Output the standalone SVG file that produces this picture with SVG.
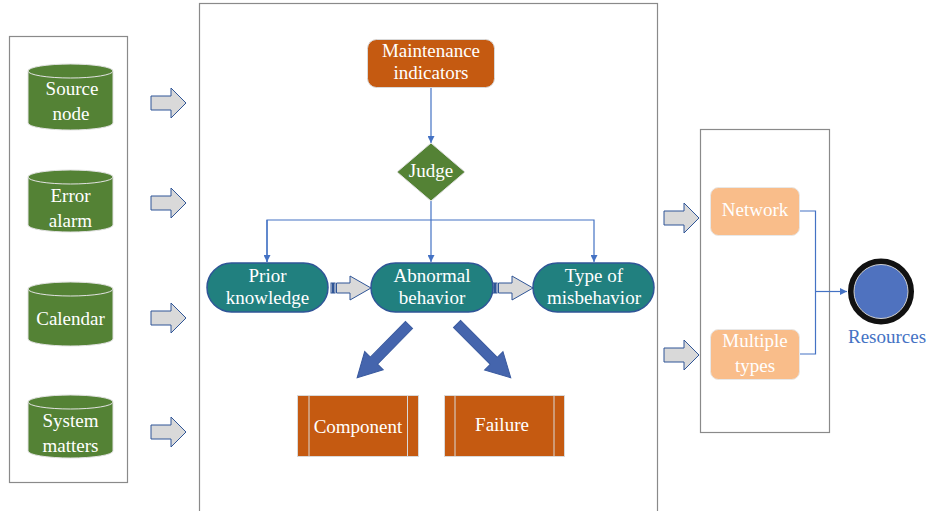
<svg xmlns="http://www.w3.org/2000/svg" width="933" height="511" viewBox="0 0 933 511">
<style>
.box{fill:none;stroke:#8a8a8a;stroke-width:1.2}
.cyl{fill:#548235;stroke:#e2e2e2;stroke-width:1}
.txt{font-family:'Liberation Serif',serif;font-size:19px;fill:#fff;text-anchor:middle}
.garrow{fill:#d9d9d9;stroke:#2f5597;stroke-width:1}
.orange{fill:#c55a11;stroke:#d9d9d9;stroke-width:1}
.pill{fill:#21807f;stroke:#2f5597;stroke-width:1.5}
.peach{fill:#f9bd8a;stroke:#e8e8e8;stroke-width:1}
.conn{fill:none;stroke:#4472c4;stroke-width:1.2}
.barrow{fill:#4565ad;stroke:#3a5a9f;stroke-width:1}
</style>
<defs>
<marker id="ah" viewBox="0 0 10 10" refX="10" refY="5" markerWidth="7" markerHeight="7" markerUnits="userSpaceOnUse" orient="auto">
<path d="M0,0 L10,5 L0,10 Z" fill="#4472c4"/>
</marker>
</defs>
<rect width="933" height="511" fill="#fff"/>

<!-- containers -->
<rect class="box" x="9.5" y="36.5" width="118" height="446"/>
<rect class="box" x="199.5" y="3.5" width="458" height="520"/>
<rect class="box" x="700.5" y="129.5" width="129" height="303"/>

<!-- left cylinders -->
<g id="source-node">
<path class="cyl" d="M28,71 V123 A42.5,7 0 0 0 113,123 V71"/>
<ellipse class="cyl" cx="70.5" cy="71" rx="42.5" ry="7"/>
<text class="txt" x="72" y="95">Source</text>
<text class="txt" x="71" y="120">node</text>
</g>
<g id="error-alarm">
<path class="cyl" d="M28,177 V225 A42.5,7 0 0 0 113,225 V177"/>
<ellipse class="cyl" cx="70.5" cy="177" rx="42.5" ry="7"/>
<text class="txt" x="70.5" y="202">Error</text>
<text class="txt" x="70.5" y="227">alarm</text>
</g>
<g id="calendar">
<path class="cyl" d="M28,289 V339 A42.5,7 0 0 0 113,339 V289"/>
<ellipse class="cyl" cx="70.5" cy="289" rx="42.5" ry="7"/>
<text class="txt" x="70.5" y="325">Calendar</text>
</g>
<g id="system-matters">
<path class="cyl" d="M28,402 V451 A42.5,7 0 0 0 113,451 V402"/>
<ellipse class="cyl" cx="70.5" cy="402" rx="42.5" ry="7"/>
<text class="txt" x="70.5" y="427">System</text>
<text class="txt" x="70.5" y="452">matters</text>
</g>

<!-- gray block arrows -->
<g id="gray-arrows">
<path class="garrow" d="M151,96 H171 V88 L186,103 L171,118 V110 H151 Z"/>
<path class="garrow" d="M151,196 H171 V188 L186,203 L171,218 V210 H151 Z"/>
<path class="garrow" d="M151,311 H171 V303 L186,318 L171,333 V325 H151 Z"/>
<path class="garrow" d="M151,425 H171 V417 L186,432 L171,447 V439 H151 Z"/>
<path class="garrow" d="M664,211 H684 V203 L699,218 L684,233 V225 H664 Z"/>
<path class="garrow" d="M664,348 H684 V340 L699,355 L684,370 V362 H664 Z"/>
</g>

<!-- connectors -->
<g id="connectors">
<path class="conn" d="M431,88 V143" marker-end="url(#ah)"/>
<path class="conn" d="M431,201 V262" marker-end="url(#ah)"/>
<path class="conn" d="M267,262 V220 H594 V262" marker-end="url(#ah)"/>
<path class="conn" d="M267,220 V262" marker-end="url(#ah)"/>
<path class="conn" d="M800,211 H815.5 V354 H800"/>
<path class="conn" d="M815.5,291.5 H847" marker-end="url(#ah)"/>
<g class="garrow">
<rect x="331" y="283" width="1.5" height="10"/>
<rect x="333.5" y="283" width="1.5" height="10"/>
<path d="M336.5,283 H350 V276 L371,288 L350,300 V293 H336.5 Z"/>
<rect x="493" y="283" width="1.5" height="10"/>
<rect x="495.5" y="283" width="1.5" height="10"/>
<path d="M498.5,283 H512 V276 L533,288 L512,300 V293 H498.5 Z"/>
</g>
<path class="barrow" d="M0,-5 H50 V-13 L74,0 L50,13 V5 H0 Z" transform="translate(409,325) rotate(134.5)"/>
<path class="barrow" d="M0,-5 H52 V-13 L76,0 L52,13 V5 H0 Z" transform="translate(457,324) rotate(45)"/>
</g>

<!-- center nodes -->
<g id="maintenance-indicators">
<rect class="orange" x="367.5" y="39.5" width="127" height="48" rx="9"/>
<text class="txt" x="431" y="57">Maintenance</text>
<text class="txt" x="431" y="79">indicators</text>
</g>
<g id="judge">
<path d="M431,143 L465,172 L431,201 L397,172 Z" fill="#548235" stroke="#e2e2e2" stroke-width="1"/>
<text class="txt" x="431" y="177">Judge</text>
</g>
<g id="prior-knowledge">
<rect class="pill" x="207" y="263" width="121" height="49" rx="24.5"/>
<text class="txt" x="267.5" y="282">Prior</text>
<text class="txt" x="267.5" y="304">knowledge</text>
</g>
<g id="abnormal-behavior">
<rect class="pill" x="371" y="263" width="122" height="49" rx="24.5"/>
<text class="txt" x="432" y="282">Abnormal</text>
<text class="txt" x="432" y="304">behavior</text>
</g>
<g id="type-of-misbehavior">
<rect class="pill" x="533" y="263" width="121" height="49" rx="24.5"/>
<text class="txt" x="594" y="282">Type of</text>
<text class="txt" x="594" y="304">misbehavior</text>
</g>
<g id="component">
<rect class="orange" x="297.5" y="395.5" width="121" height="61"/>
<path d="M309,396 V456 M407.5,396 V456" stroke="#d9d9d9" stroke-width="1"/>
<text class="txt" x="358" y="433">Component</text>
</g>
<g id="failure">
<rect class="orange" x="444.5" y="395.5" width="120" height="61"/>
<path d="M455,396 V456 M554,396 V456" stroke="#d9d9d9" stroke-width="1"/>
<text class="txt" x="502" y="431">Failure</text>
</g>

<!-- right nodes -->
<g id="network">
<rect class="peach" x="710.5" y="187.5" width="89" height="48" rx="8"/>
<text class="txt" x="755" y="216">Network</text>
</g>
<g id="multiple-types">
<rect class="peach" x="710.5" y="329.5" width="89" height="50" rx="8"/>
<text class="txt" x="755" y="347">Multiple</text>
<text class="txt" x="755" y="372">types</text>
</g>
<g id="resources">
<circle cx="881" cy="291.5" r="30" fill="#4f72bf" stroke="#111" stroke-width="6"/>
<circle cx="881" cy="291.5" r="27" fill="none" stroke="#d0d0d0" stroke-width="1"/>
<text x="887" y="343" font-family="'Liberation Serif', serif" font-size="19" fill="#4472c4" text-anchor="middle">Resources</text>
</g>
</svg>
